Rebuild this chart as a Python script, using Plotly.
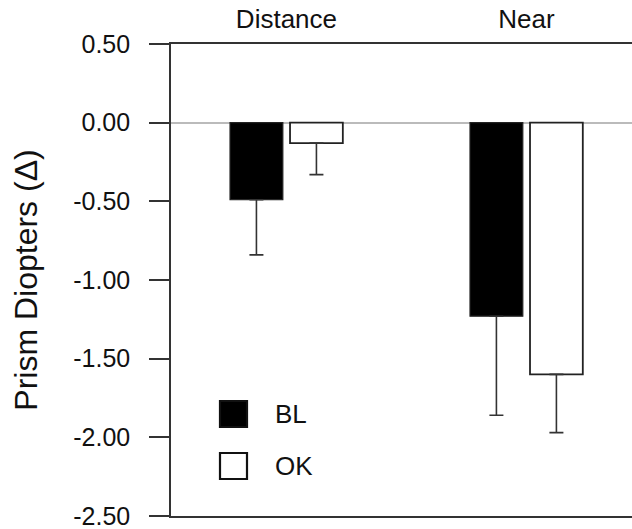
import plotly.graph_objects as go

categories = ["Distance", "Near"]
bl_values = [-0.49, -1.23]
bl_err_minus = [0.35, 0.63]
ok_values = [-0.13, -1.60]
ok_err_minus = [0.20, 0.37]
y_tickvals = [0.5, 0.0, -0.5, -1.0, -1.5, -2.0, -2.5]
y_ticktext = ["0.50", "0.00", "-0.50", "-1.00", "-1.50", "-2.00", "-2.50"]

FONT = "Arial, Liberation Sans, Helvetica, sans-serif"
AX = "#333333"

fig = go.Figure()
fig.add_trace(go.Bar(
    name="BL", x=categories, y=bl_values,
    marker=dict(color="#000000", line=dict(color="#222222", width=1.2)),
    error_y=dict(type="data", symmetric=False, array=[0, 0], arrayminus=bl_err_minus,
                 color=AX, thickness=1.6, width=7),
))
fig.add_trace(go.Bar(
    name="OK", x=categories, y=ok_values,
    marker=dict(color="#ffffff", line=dict(color="#222222", width=1.8)),
    error_y=dict(type="data", symmetric=False, array=[0, 0], arrayminus=ok_err_minus,
                 color=AX, thickness=1.6, width=7),
))

fig.update_layout(
    width=632, height=529,
    margin=dict(l=171, r=0, t=44, b=13),
    paper_bgcolor="white", plot_bgcolor="white",
    barmode="group", bargap=0.5, bargroupgap=0.12,
    showlegend=False,
    font=dict(family=FONT, size=24, color="#111111"),
    xaxis=dict(
        side="top", range=[-0.481, 1.44], ticks="", showgrid=False,
        showline=True, mirror=True, linecolor=AX, linewidth=1.6,
        tickfont=dict(size=26), ticklabelstandoff=4,
    ),
    yaxis=dict(
        range=[-2.5, 0.5], tickvals=y_tickvals, ticktext=y_ticktext,
        ticks="outside", ticklen=20, tickwidth=1.6, tickcolor=AX,
        showline=True, linecolor=AX, linewidth=1.6, showgrid=False,
        zeroline=True, zerolinecolor="#bbbbbb", zerolinewidth=1.5,
        tickfont=dict(size=25), ticklabelstandoff=14, ticklabeloverflow="allow",
        title=dict(text="Prism Diopters (Δ)", font=dict(size=32), standoff=26),
    ),
)

# legend drawn as layout elements
legend_items = [("BL", "#000000"), ("OK", "#ffffff")]
for i, (label, fill) in enumerate(legend_items):
    fig.add_shape(type="rect", xref="paper", yref="paper",
                  x0=(220 - 171) / 461, x1=(247 - 171) / 461,
                  y0=(529 - 13 - (427 + i * 52)) / 472, y1=(529 - 13 - (401 + i * 52)) / 472,
                  fillcolor=fill, line=dict(color="#111111", width=2.2), layer="above")
    fig.add_annotation(xref="paper", yref="paper",
                       x=(273 - 171) / 461, y=(529 - 13 - (414 + i * 52)) / 472,
                       text=label, showarrow=False, xanchor="left", yanchor="middle",
                       font=dict(size=26, color="#111111"))

fig.write_html("out.html")
